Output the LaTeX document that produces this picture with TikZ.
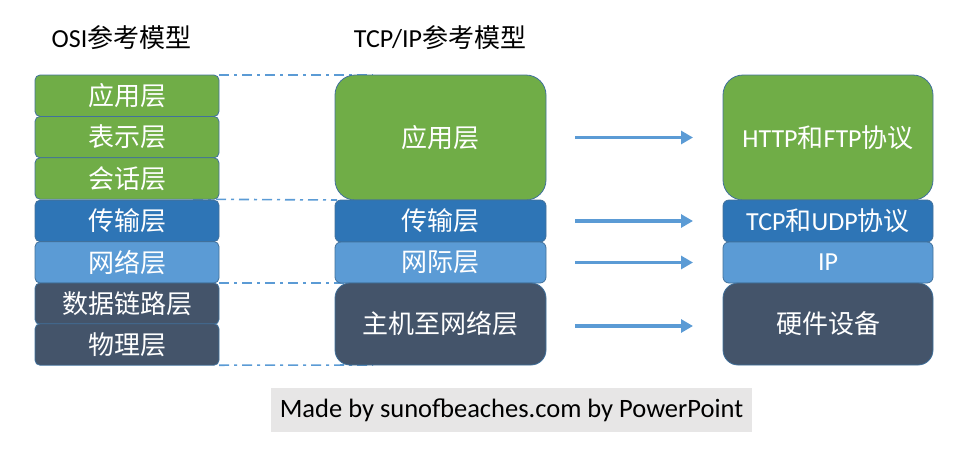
\documentclass[tikz,border=0pt]{standalone}
\usepackage{fontspec}
\setmainfont{Carlito}
\newfontfamily\cjk{Noto Sans CJK SC}
\usetikzlibrary{arrows.meta,backgrounds}
\definecolor{cgreen}{HTML}{70AD47}
\definecolor{cdblue}{HTML}{2E75B6}
\definecolor{clblue}{HTML}{5B9BD5}
\definecolor{cslate}{HTML}{44546A}
\definecolor{cedge}{HTML}{41719C}
\definecolor{cfoot}{HTML}{E7E6E6}
\tikzset{
  layerbox/.style={draw=cedge, line width=0.8pt, inner sep=0pt, outer sep=0pt,
    text=white, font=\fontsize{26}{30}\selectfont},
  osibox/.style={layerbox, rounded corners=5pt, minimum width=184pt, minimum height=41.4pt},
  tcpbox/.style={layerbox, minimum width=211pt},
  rbox/.style={layerbox, minimum width=210pt},
  titletext/.style={font=\fontsize{26}{30}\selectfont, text=black, inner sep=0pt},
  flowarrow/.style={draw=clblue, line width=3.5pt, -{Triangle[length=12pt,width=13pt]}},
  ddline/.style={draw=clblue, line width=1.6pt, dash pattern=on 10pt off 5pt on 3pt off 5pt}
}
\begin{document}
\begin{tikzpicture}[x=1pt,y=-1pt]
\useasboundingbox (0,0) rectangle (962,448);
% titles
\node[titletext] (t1) at (121.5,38) {OSI{\cjk 参考模型}};
\node[titletext] (t2) at (440,38) {TCP/IP{\cjk 参考模型}};
% OSI column
\node[osibox, fill=cgreen] (o1) at (127,95.7) {\cjk 应用层};
\node[osibox, fill=cgreen] (o2) at (127,137.1) {\cjk 表示层};
\node[osibox, fill=cgreen] (o3) at (127,178.5) {\cjk 会话层};
\node[osibox, fill=cdblue] (o4) at (127,220.9) {\cjk 传输层};
\node[osibox, fill=clblue] (o5) at (127,262.3) {\cjk 网络层};
\node[osibox, fill=cslate] (o6) at (127,303.7) {\cjk 数据链路层};
\node[osibox, fill=cslate] (o7) at (127,344.5) {\cjk 物理层};
% TCP/IP column
\node[tcpbox, rounded corners=20pt, minimum height=125pt, fill=cgreen] (c1) at (440.5,137.5) {\cjk 应用层};
\node[tcpbox, rounded corners=6pt, minimum height=42pt, fill=cdblue] (c2) at (440.5,221) {\cjk 传输层};
\node[tcpbox, rounded corners=6pt, minimum height=41pt, fill=clblue] (c3) at (440.5,262.5) {\cjk 网际层};
\node[tcpbox, rounded corners=15pt, minimum height=82pt, fill=cslate] (c4) at (440.5,324) {\cjk 主机至网络层};
% right column
\node[rbox, rounded corners=20pt, minimum height=125pt, fill=cgreen] (r1) at (828,137.5) {HTTP{\cjk 和}FTP{\cjk 协议}};
\node[rbox, rounded corners=6pt, minimum height=42pt, fill=cdblue] (r2) at (828,221) {TCP{\cjk 和}UDP{\cjk 协议}};
\node[rbox, rounded corners=6pt, minimum height=41pt, fill=clblue] (r3) at (828,262.5) {IP};
\node[rbox, rounded corners=15pt, minimum height=82pt, fill=cslate] (r4) at (828,324) {\cjk 硬件设备};
% dash-dot guide lines
\begin{scope}[on background layer]
\draw[ddline] (o1.north east) -- ([xshift=38pt]c1.north west);
\draw[ddline] ([xshift=-26pt]o3.south east) -- ([xshift=2pt]c1.south west);
\draw[ddline] (o5.south east) -- ([xshift=38pt]c3.south west);
\draw[ddline] (o7.south east) -- ([xshift=38pt]c4.south west);
\end{scope}
% arrows
\draw[flowarrow] ([xshift=29pt]c1.east) -- ([xshift=-30pt]r1.west);
\draw[flowarrow] ([xshift=29pt]c2.east) -- ([xshift=-30pt]r2.west);
\draw[flowarrow] ([xshift=29pt]c3.east) -- ([xshift=-30pt]r3.west);
\draw[flowarrow] ([xshift=29pt,yshift=-2pt]c4.east) -- ([xshift=-30pt,yshift=-2pt]r4.west);
% footer
\node[fill=cfoot, minimum width=481pt, minimum height=44pt, inner sep=0pt,
  font=\fontsize{26.5}{30}\selectfont] (foot) at (511.5,410) {Made by sunofbeaches.com by PowerPoint};
\end{tikzpicture}
\end{document}
